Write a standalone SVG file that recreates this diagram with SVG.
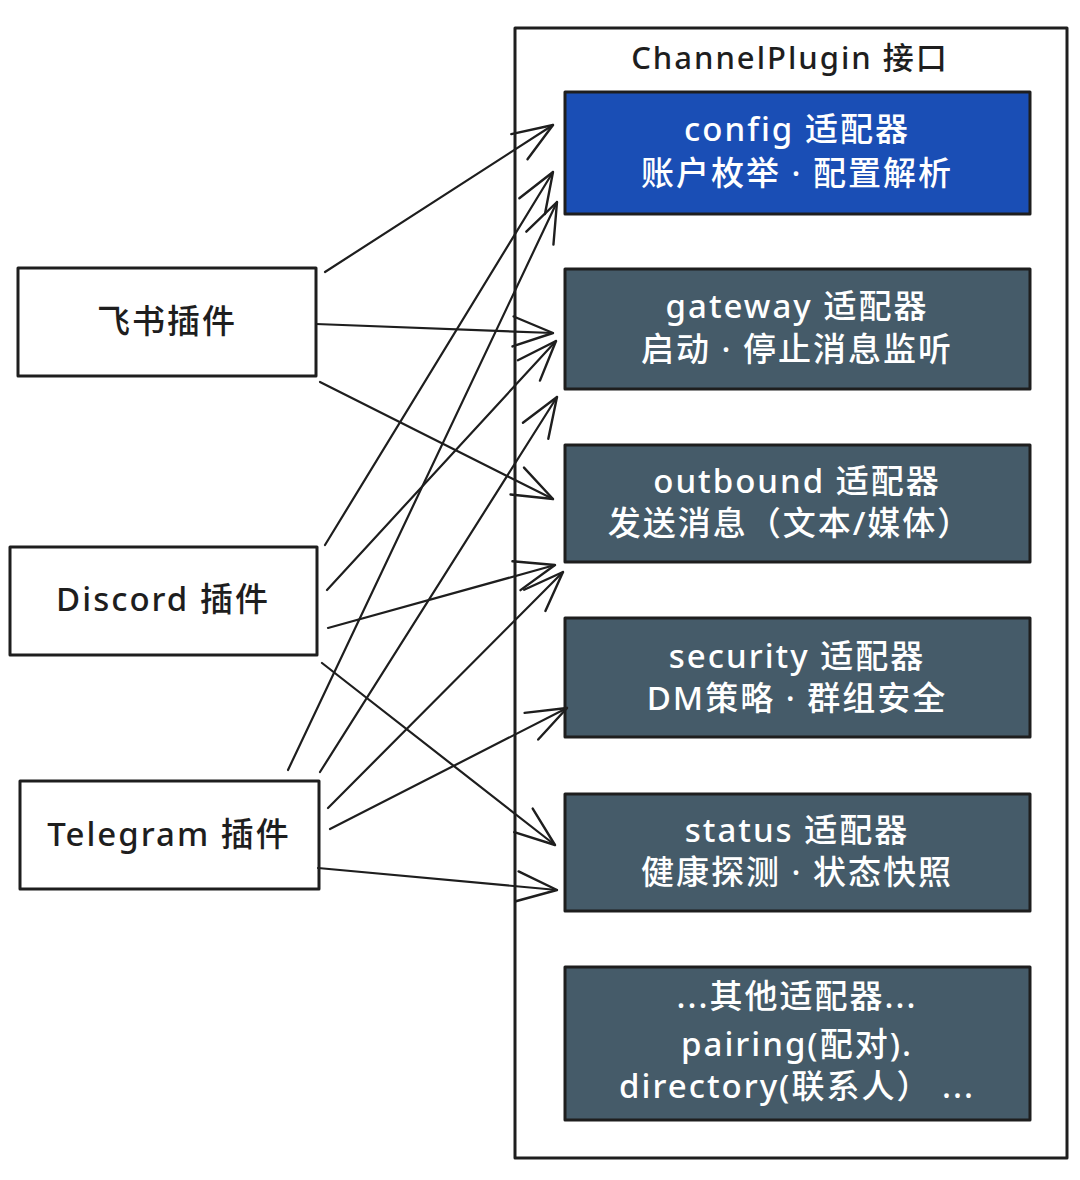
<svg xmlns="http://www.w3.org/2000/svg" width="1080" height="1180" viewBox="0 0 1080 1180">
<defs>
<style>
.box{stroke:#1e1e1e;stroke-width:3;stroke-linejoin:round}
.plain{fill:#ffffff}
.blue{fill:#1a4eb5}
.slate{fill:#455b69}
.t{font-family:"Noto Sans","Noto Sans CJK SC",sans-serif;text-anchor:middle;dominant-baseline:central;font-weight:500}
.w{fill:#ffffff;font-size:33px;letter-spacing:2px}
.k{fill:#1e1e1e;font-size:33px;letter-spacing:2px}
.conn path{fill:none;stroke:#1e1e1e;stroke-width:2.2;stroke-linecap:round}
</style>
<marker id="ah" markerUnits="userSpaceOnUse" viewBox="-46 -20 50 40" refX="0" refY="0" markerWidth="50" markerHeight="40" orient="auto" overflow="visible">
<path d="M-40,-15 L0,0 L-40,15" fill="none" stroke="#1e1e1e" stroke-width="2.4" stroke-linecap="round" stroke-linejoin="round"/>
</marker>
</defs>
<rect width="1080" height="1180" fill="#ffffff"/>

<g id="channelplugin">
<rect class="box plain" x="515" y="28" width="552" height="1130"/>
<text class="t k" x="790" y="57" style="font-size:31px">ChannelPlugin 接口</text>
</g>

<g id="config">
<rect class="box blue" x="565" y="92" width="465" height="122"/>
<text class="t w" x="797" y="128">config 适配器</text>
<text class="t w" x="797" y="172">账户枚举 · 配置解析</text>
</g>

<g id="gateway">
<rect class="box slate" x="565" y="269" width="465" height="120"/>
<text class="t w" x="797" y="305">gateway 适配器</text>
<text class="t w" x="797" y="348">启动 · 停止消息监听</text>
</g>

<g id="outbound">
<rect class="box slate" x="565" y="445" width="465" height="117"/>
<text class="t w" x="797" y="480">outbound 适配器</text>
<text class="t w" x="790" y="522">发送消息（文本/媒体）</text>
</g>

<g id="security">
<rect class="box slate" x="565" y="618" width="465" height="119"/>
<text class="t w" x="797" y="655">security 适配器</text>
<text class="t w" x="797" y="697">DM策略 · 群组安全</text>
</g>

<g id="status">
<rect class="box slate" x="565" y="794" width="465" height="117"/>
<text class="t w" x="797" y="829">status 适配器</text>
<text class="t w" x="797" y="871">健康探测 · 状态快照</text>
</g>

<g id="others">
<rect class="box slate" x="565" y="967" width="465" height="153"/>
<text class="t w" x="797" y="995">...其他适配器...</text>
<text class="t w" x="797" y="1043">pairing(配对).</text>
<text class="t w" x="797" y="1085">directory(联系人） ...</text>
</g>

<g id="feishu">
<rect class="box plain" x="18" y="268" width="298" height="108"/>
<text class="t k" x="167" y="320">飞书插件</text>
</g>

<g id="discord">
<rect class="box plain" x="10" y="547" width="307" height="108"/>
<text class="t k" x="163" y="598">Discord 插件</text>
</g>

<g id="telegram">
<rect class="box plain" x="20" y="781" width="299" height="108"/>
<text class="t k" x="169" y="833">Telegram 插件</text>
</g>

<g id="connectors" class="conn">
<path d="M325,272 L553,125" marker-end="url(#ah)"/>
<path d="M316,324 L553,333" marker-end="url(#ah)"/>
<path d="M320,382 L553,499" marker-end="url(#ah)"/>
<path d="M325,545 L553,172" marker-end="url(#ah)"/>
<path d="M327,590 L556,341" marker-end="url(#ah)"/>
<path d="M328,628 L555,565" marker-end="url(#ah)"/>
<path d="M322,663 L555,845" marker-end="url(#ah)"/>
<path d="M288,770 L557,202" marker-end="url(#ah)"/>
<path d="M320,772 L557,397" marker-end="url(#ah)"/>
<path d="M328,808 L563,572" marker-end="url(#ah)"/>
<path d="M330,829 L567,708" marker-end="url(#ah)"/>
<path d="M318,868 L557,890" marker-end="url(#ah)"/>
</g>
</svg>
